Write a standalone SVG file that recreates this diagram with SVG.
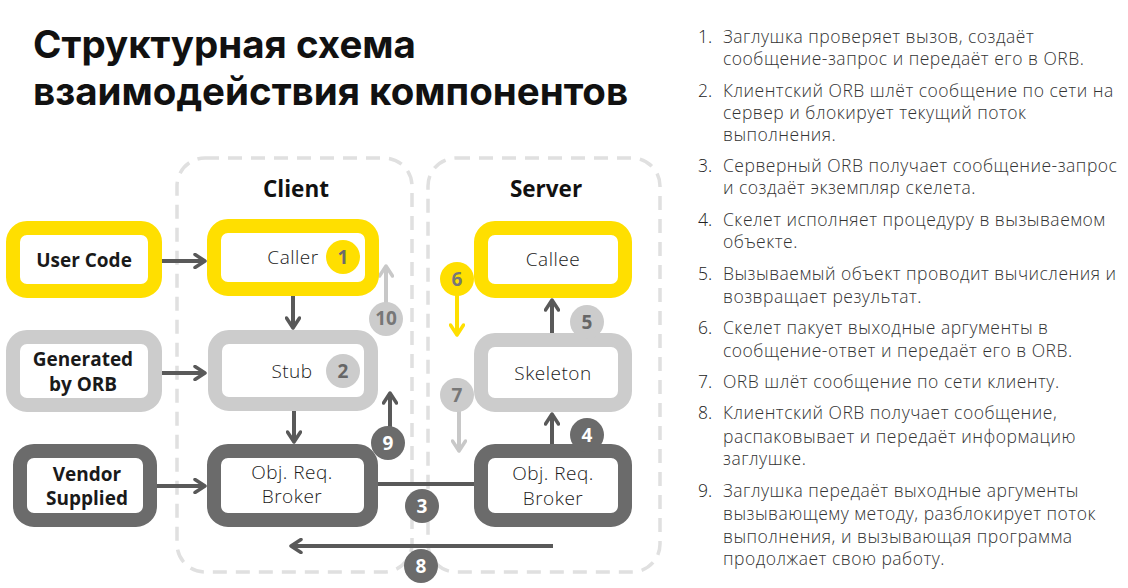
<svg xmlns="http://www.w3.org/2000/svg" width="1128" height="588" viewBox="0 0 1128 588">
<style>
.title{font-family:Inter,"Open Sans",sans-serif;font-weight:700;font-size:38.5px;fill:#111}
.lbl{font-family:"Open Sans","Noto Sans",sans-serif;font-weight:700;font-size:19px;fill:#1a1a1a;text-anchor:middle}
.hdr{font-family:"Open Sans","Noto Sans",sans-serif;font-weight:700;font-size:22.5px;fill:#111;text-anchor:middle}
.box{font-family:"Open Sans","Noto Sans",sans-serif;font-weight:300;font-size:19px;letter-spacing:0.5px;fill:#1a1a1a;text-anchor:middle}
.li{font-family:"Open Sans","Noto Sans",sans-serif;font-weight:300;font-size:17.5px;letter-spacing:0.5px;fill:#333}
.num{font-family:"Open Sans","Noto Sans",sans-serif;font-weight:300;font-size:17.5px;fill:#222}
.cont{fill:none;stroke:#e0e0e0;stroke-width:3.5;stroke-dasharray:14 9}
.y{fill:#fff;stroke:#ffdf00;stroke-width:14}
.l{fill:#fff;stroke:#cccccc;stroke-width:14}
.d{fill:#fff;stroke:#6b6b6b;stroke-width:14}
.a{fill:none;stroke:#595959;stroke-width:4}
.bt{font-family:"Open Sans","Noto Sans",sans-serif;font-weight:700;font-size:19px;text-anchor:middle}
</style>
<defs>
<marker id="ad" viewBox="0 0 16 16" refX="13" refY="8" markerWidth="16" markerHeight="16" markerUnits="userSpaceOnUse" orient="auto">
<path d="M3,1.5 L13,8 L3,14.5" fill="none" stroke="#595959" stroke-width="3.5" stroke-linecap="round" stroke-linejoin="round"/>
</marker>
<marker id="al" viewBox="0 0 16 16" refX="13" refY="8" markerWidth="16" markerHeight="16" markerUnits="userSpaceOnUse" orient="auto">
<path d="M3,1.5 L13,8 L3,14.5" fill="none" stroke="#c8c8c8" stroke-width="3.5" stroke-linecap="round" stroke-linejoin="round"/>
</marker>
<marker id="ay" viewBox="0 0 16 16" refX="13" refY="8" markerWidth="16" markerHeight="16" markerUnits="userSpaceOnUse" orient="auto">
<path d="M3,1.5 L13,8 L3,14.5" fill="none" stroke="#ffdf00" stroke-width="3.5" stroke-linecap="round" stroke-linejoin="round"/>
</marker>
</defs>
<rect width="1128" height="588" fill="#fff"/>
<g id="title">
<text class="title" x="33" y="58">Структурная схема</text>
<text class="title" x="33" y="105">взаимодействия компонентов</text>
</g>
<g id="containers">
<rect class="cont" x="177" y="158" width="235" height="414" rx="28"/>
<rect class="cont" x="428" y="158" width="232" height="414" rx="28"/>
<text class="hdr" x="296" y="197">Client</text>
<text class="hdr" x="546" y="197">Server</text>
</g>
<g id="connectors">
<line class="a" x1="162" y1="261" x2="205" y2="261" marker-end="url(#ad)"/>
<line class="a" x1="162" y1="373" x2="205" y2="373" marker-end="url(#ad)"/>
<line class="a" x1="157" y1="486" x2="205" y2="486" marker-end="url(#ad)"/>
<line class="a" x1="293" y1="296" x2="293" y2="328" marker-end="url(#ad)"/>
<line class="a" x1="294" y1="411" x2="294" y2="442" marker-end="url(#ad)"/>
<line class="a" x1="378" y1="484" x2="474" y2="484" stroke-width="3.5"/>
<line class="a" x1="553" y1="546" x2="291" y2="546" marker-end="url(#ad)"/>
<line class="a" x1="552" y1="444" x2="552" y2="414" marker-end="url(#ad)"/>
<line class="a" x1="552" y1="333" x2="552" y2="300" marker-end="url(#ad)"/>
<line class="a" x1="390" y1="430" x2="390" y2="393" marker-end="url(#ad)"/>
<line x1="386" y1="305" x2="386" y2="266" stroke="#c8c8c8" stroke-width="4" marker-end="url(#al)"/>
<line x1="457" y1="292" x2="457" y2="335" stroke="#ffdf00" stroke-width="4" marker-end="url(#ay)"/>
<line x1="459" y1="408" x2="459" y2="451" stroke="#c8c8c8" stroke-width="4" marker-end="url(#al)"/>
</g>
<g id="user-code">
<rect class="y" x="13" y="228" width="142" height="63" rx="14"/>
<text class="lbl" x="84" y="267">User Code</text>
</g>
<g id="generated">
<rect class="l" x="13" y="337" width="142" height="68" rx="14"/>
<text class="lbl" x="83" y="366">Generated</text>
<text class="lbl" x="83" y="391">by ORB</text>
</g>
<g id="vendor">
<rect class="d" x="20" y="451" width="130" height="69" rx="14"/>
<text class="lbl" x="87" y="481">Vendor</text>
<text class="lbl" x="87" y="505">Supplied</text>
</g>
<g id="caller">
<rect class="y" x="214" y="226" width="158" height="63" rx="14"/>
<text class="box" x="293" y="264">Caller</text>
</g>
<g id="stub">
<rect class="l" x="215" y="337" width="156" height="67" rx="14"/>
<text class="box" x="292" y="378">Stub</text>
</g>
<g id="client-orb">
<rect class="d" x="214" y="451" width="157" height="69" rx="14"/>
<text class="box" x="292" y="479">Obj. Req.</text>
<text class="box" x="292" y="503">Broker</text>
</g>
<g id="callee">
<rect class="y" x="481" y="228" width="144" height="63" rx="14"/>
<text class="box" x="553" y="266">Callee</text>
</g>
<g id="skeleton">
<rect class="l" x="481" y="340" width="144" height="65" rx="14"/>
<text class="box" x="553" y="380">Skeleton</text>
</g>
<g id="server-orb">
<rect class="d" x="481" y="451" width="144" height="69" rx="14"/>
<text class="box" x="553" y="480">Obj. Req.</text>
<text class="box" x="553" y="505">Broker</text>
</g>
<g id="badges">
<circle cx="343" cy="257" r="17" fill="#ffdf00"/><text class="bt" x="343" y="264" fill="#6b6b6b">1</text>
<circle cx="343" cy="371" r="17" fill="#cccccc"/><text class="bt" x="343" y="378" fill="#666">2</text>
<circle cx="422" cy="506" r="17" fill="#6b6b6b"/><text class="bt" x="422" y="513" fill="#fff">3</text>
<circle cx="587" cy="435" r="17" fill="#6b6b6b"/><text class="bt" x="587" y="442" fill="#fff">4</text>
<circle cx="587" cy="322" r="17" fill="#cccccc"/><text class="bt" x="587" y="329" fill="#666">5</text>
<circle cx="457" cy="279" r="17" fill="#ffdf00"/><text class="bt" x="457" y="286" fill="#777">6</text>
<circle cx="457" cy="395" r="17" fill="#cccccc"/><text class="bt" x="457" y="402" fill="#777">7</text>
<circle cx="421" cy="566" r="17" fill="#6b6b6b"/><text class="bt" x="421" y="573" fill="#fff">8</text>
<circle cx="388" cy="443" r="17" fill="#6b6b6b"/><text class="bt" x="388" y="450" fill="#fff">9</text>
<circle cx="386" cy="319" r="17" fill="#cccccc"/><text class="bt" x="386" y="325" fill="#777" font-size="16">10</text>
</g>
<g id="steps">
<text class="num" x="698" y="43">1.</text>
<text class="li" x="723" y="43">Заглушка проверяет вызов, создаёт</text>
<text class="li" x="723" y="65">сообщение-запрос и передаёт его в ORB.</text>
<text class="num" x="698" y="97">2.</text>
<text class="li" x="723" y="97">Клиентский ORB шлёт сообщение по сети на</text>
<text class="li" x="723" y="119">сервер и блокирует текущий поток</text>
<text class="li" x="723" y="141">выполнения.</text>
<text class="num" x="698" y="172">3.</text>
<text class="li" x="723" y="172">Серверный ORB получает сообщение-запрос</text>
<text class="li" x="723" y="194">и создаёт экземпляр скелета.</text>
<text class="num" x="698" y="226">4.</text>
<text class="li" x="723" y="226">Скелет исполняет процедуру в вызываемом</text>
<text class="li" x="723" y="248">объекте.</text>
<text class="num" x="698" y="280">5.</text>
<text class="li" x="723" y="280">Вызываемый объект проводит вычисления и</text>
<text class="li" x="723" y="303">возвращает результат.</text>
<text class="num" x="698" y="334">6.</text>
<text class="li" x="723" y="334">Скелет пакует выходные аргументы в</text>
<text class="li" x="723" y="357">сообщение-ответ и передаёт его в ORB.</text>
<text class="num" x="698" y="388">7.</text>
<text class="li" x="723" y="388">ORB шлёт сообщение по сети клиенту.</text>
<text class="num" x="698" y="419">8.</text>
<text class="li" x="723" y="419">Клиентский ORB получает сообщение,</text>
<text class="li" x="723" y="443">распаковывает и передаёт информацию</text>
<text class="li" x="723" y="465">заглушке.</text>
<text class="num" x="698" y="497">9.</text>
<text class="li" x="723" y="497">Заглушка передаёт выходные аргументы</text>
<text class="li" x="723" y="520">вызывающему методу, разблокирует поток</text>
<text class="li" x="723" y="543">выполнения, и вызывающая программа</text>
<text class="li" x="723" y="565">продолжает свою работу.</text>
</g>
</svg>
